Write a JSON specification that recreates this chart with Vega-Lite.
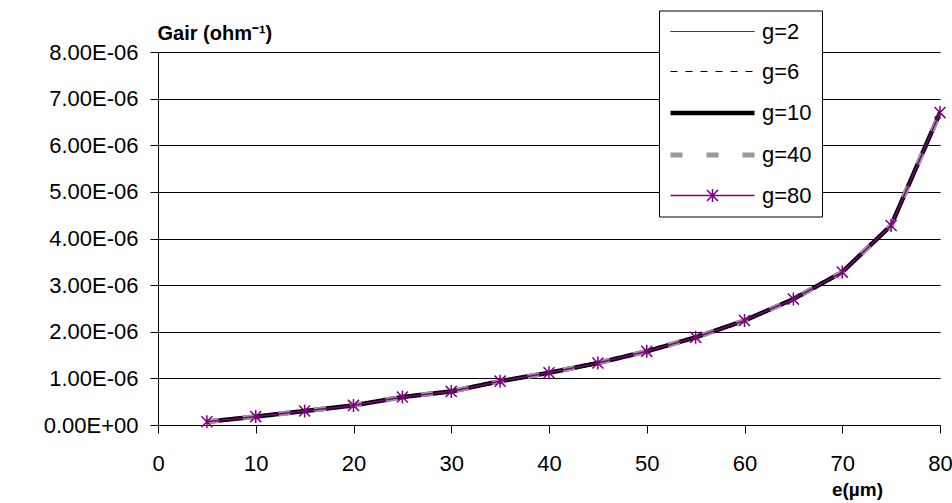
{
  "$schema": "https://vega.github.io/schema/vega-lite/v6.json",
  "width": 782,
  "height": 373,
  "autosize": {"type": "none"},
  "padding": {"left": 158, "top": 52, "right": 12, "bottom": 78},
  "background": "white",
  "config": {
    "font": "Liberation Sans",
    "view": {"stroke": null},
    "axis": {
      "labelFont": "Liberation Sans",
      "labelFontSize": 22,
      "labelColor": "black",
      "domainColor": "black",
      "tickColor": "black",
      "tickSize": 8,
      "titleColor": "black",
      "titleFont": "Liberation Sans"
    },
    "legend": {
      "labelFont": "Liberation Sans",
      "labelFontSize": 22,
      "labelColor": "black"
    }
  },
  "data": {
    "values": [
      {"e": 5, "g=2": 0.07e-6, "g=6": 0.07e-6, "g=10": 0.07e-6, "g=40": 0.07e-6, "g=80": 0.07e-6},
      {"e": 10, "g=2": 0.18e-6, "g=6": 0.18e-6, "g=10": 0.18e-6, "g=40": 0.18e-6, "g=80": 0.18e-6},
      {"e": 15, "g=2": 0.30e-6, "g=6": 0.30e-6, "g=10": 0.30e-6, "g=40": 0.30e-6, "g=80": 0.30e-6},
      {"e": 20, "g=2": 0.42e-6, "g=6": 0.42e-6, "g=10": 0.42e-6, "g=40": 0.42e-6, "g=80": 0.42e-6},
      {"e": 25, "g=2": 0.60e-6, "g=6": 0.60e-6, "g=10": 0.60e-6, "g=40": 0.60e-6, "g=80": 0.60e-6},
      {"e": 30, "g=2": 0.72e-6, "g=6": 0.72e-6, "g=10": 0.72e-6, "g=40": 0.72e-6, "g=80": 0.72e-6},
      {"e": 35, "g=2": 0.94e-6, "g=6": 0.94e-6, "g=10": 0.94e-6, "g=40": 0.94e-6, "g=80": 0.94e-6},
      {"e": 40, "g=2": 1.12e-6, "g=6": 1.12e-6, "g=10": 1.12e-6, "g=40": 1.12e-6, "g=80": 1.12e-6},
      {"e": 45, "g=2": 1.33e-6, "g=6": 1.33e-6, "g=10": 1.33e-6, "g=40": 1.33e-6, "g=80": 1.33e-6},
      {"e": 50, "g=2": 1.58e-6, "g=6": 1.58e-6, "g=10": 1.58e-6, "g=40": 1.58e-6, "g=80": 1.58e-6},
      {"e": 55, "g=2": 1.88e-6, "g=6": 1.88e-6, "g=10": 1.88e-6, "g=40": 1.88e-6, "g=80": 1.88e-6},
      {"e": 60, "g=2": 2.24e-6, "g=6": 2.24e-6, "g=10": 2.24e-6, "g=40": 2.24e-6, "g=80": 2.24e-6},
      {"e": 65, "g=2": 2.70e-6, "g=6": 2.70e-6, "g=10": 2.70e-6, "g=40": 2.70e-6, "g=80": 2.70e-6},
      {"e": 70, "g=2": 3.28e-6, "g=6": 3.28e-6, "g=10": 3.28e-6, "g=40": 3.28e-6, "g=80": 3.28e-6},
      {"e": 75, "g=2": 4.28e-6, "g=6": 4.28e-6, "g=10": 4.28e-6, "g=40": 4.28e-6, "g=80": 4.28e-6},
      {"e": 80, "g=2": 6.70e-6, "g=6": 6.70e-6, "g=10": 6.70e-6, "g=40": 6.70e-6, "g=80": 6.70e-6}
    ]
  },
  "transform": [
    {"fold": ["g=2", "g=6", "g=10", "g=40", "g=80"], "as": ["series", "G"]}
  ],
  "encoding": {
    "x": {
      "field": "e",
      "type": "quantitative",
      "scale": {"domain": [0, 80], "nice": false, "zero": false},
      "axis": {
        "values": [0, 10, 20, 30, 40, 50, 60, 70, 80],
        "grid": false,
        "labelPadding": 20,
        "labelFlush": false,
        "title": "e(µm)",
        "titleFontSize": 19,
        "titleFontWeight": "bold",
        "titleAlign": "center",
        "titleBaseline": "alphabetic",
        "titleX": 699,
        "titleY": 70
      }
    },
    "y": {
      "field": "G",
      "type": "quantitative",
      "scale": {"domain": [0, 8e-6], "nice": false},
      "axis": {
        "values": [0, 1e-6, 2e-6, 3e-6, 4e-6, 5e-6, 6e-6, 7e-6, 8e-6],
        "labelExpr": "upper(replace(replace(format(datum.value, '.2e'), 'e-', 'e-0'), 'e+', 'e+0'))",
        "grid": true,
        "gridColor": "black",
        "gridWidth": 1,
        "gridOpacity": 1,
        "labelPadding": 12,
        "title": "Gair (ohm⁻¹)",
        "titleFontSize": 20,
        "titleFontWeight": "bold",
        "titleAngle": 0,
        "titleAlign": "left",
        "titleBaseline": "alphabetic",
        "titleX": -1,
        "titleY": -13
      }
    }
  },
  "layer": [
    {
      "mark": {"type": "line", "clip": true},
      "encoding": {
        "color": {
          "field": "series",
          "type": "nominal",
          "scale": {
            "domain": ["g=2", "g=6", "g=10", "g=40", "g=80"],
            "range": ["#000000", "#000000", "#000000", "#999999", "#800080"]
          },
          "legend": {
            "title": null,
            "orient": "none",
            "legendX": 501,
            "legendY": -41.5,
            "padding": 10,
            "strokeColor": "black",
            "fillColor": "white",
            "symbolSize": 400,
            "symbolType": "M-4.2,0L4.2,0",
            "symbolOffset": 31,
            "labelOffset": 37,
            "rowPadding": 18,
            "labelBaseline": "middle",
            "encode": {
              "symbols": {
                "update": {
                  "shape": {"signal": "datum.value === 'g=80' ? 'M-4.2,0L4.2,0M0,-0.65L0,0.65M-0.55,-0.55L0.55,0.55M-0.55,0.55L0.55,-0.55' : 'M-4.2,0L4.2,0'"}
                }
              }
            }
          }
        },
        "strokeDash": {
          "field": "series",
          "type": "nominal",
          "scale": {
            "domain": ["g=2", "g=6", "g=10", "g=40", "g=80"],
            "range": [[1, 0], [7, 8], [1, 0], [12, 24], [1, 0]]
          }
        },
        "strokeWidth": {
          "field": "series",
          "type": "ordinal",
          "scale": {
            "type": "ordinal",
            "domain": ["g=2", "g=6", "g=10", "g=40", "g=80"],
            "range": [1, 1, 4.5, 5, 1.5]
          }
        }
      }
    },
    {
      "transform": [{"filter": "datum.series === 'g=80'"}],
      "mark": {
        "type": "point",
        "shape": "M0,-1L0,1M-0.85,-0.85L0.85,0.85M-0.85,0.85L0.85,-0.85",
        "size": 169,
        "filled": false,
        "stroke": "#800080",
        "strokeWidth": 1.5,
        "opacity": 1,
        "clip": false
      }
    }
  ]
}
